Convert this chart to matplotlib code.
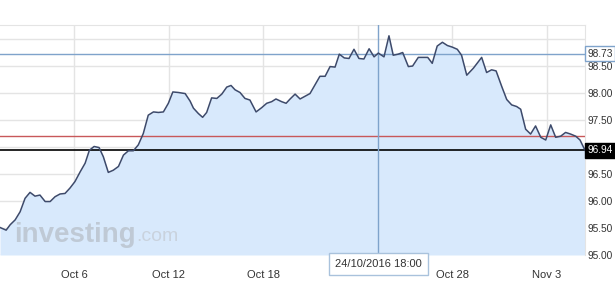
import numpy as np
import matplotlib
matplotlib.use("Agg")
import matplotlib.pyplot as plt
import matplotlib.transforms as mtransforms

plt.rcParams['font.family'] = ['Liberation Sans', 'DejaVu Sans']

# x in trading days from Oct 3 2016 (weekends skipped), y is the index level
days = [-0.13, 0.13, 0.30, 0.51, 0.72, 0.93, 1.14, 1.35, 1.56, 1.78, 1.99, 2.20,
        2.41, 2.62, 2.83, 3.04, 3.26, 3.47, 3.65, 3.85, 4.06, 4.24, 4.45, 4.66,
        4.88, 5.09, 5.30, 5.51, 5.72, 5.93, 6.14, 6.36, 6.57, 6.78, 6.99, 7.18,
        7.41, 7.70, 7.91, 8.05, 8.26, 8.44, 8.61, 8.82, 9.04, 9.25, 9.46, 9.64,
        9.81, 10.02, 10.23, 10.44, 10.70, 10.94, 11.15, 11.36, 11.54, 11.78, 11.97, 12.14,
        12.35, 12.56, 12.77, 12.98, 13.19, 13.40, 13.62, 13.83, 14.04, 14.22, 14.43, 14.63,
        14.84, 15.05, 15.26, 15.48, 15.69, 15.87, 16.11, 16.32, 16.50, 16.71, 16.90, 17.14,
        17.32, 17.56, 17.77, 17.96, 18.15, 18.36, 18.58, 18.79, 19.00, 19.21, 19.39, 19.61,
        19.89, 20.24, 20.45, 20.66, 20.85, 21.09, 21.30, 21.51, 21.72, 21.89, 22.10, 22.31,
        22.52, 22.74, 22.95, 23.16, 23.37, 23.58, 23.79, 24.00, 24.22, 24.40, 24.61]
price = [95.51, 95.46, 95.56, 95.65, 95.80, 96.05, 96.16, 96.09, 96.11, 95.99, 95.99, 96.08,
         96.13, 96.14, 96.24, 96.36, 96.54, 96.70, 96.94, 97.01, 96.99, 96.82, 96.53, 96.57,
         96.64, 96.85, 96.93, 96.93, 97.04, 97.25, 97.59, 97.65, 97.64, 97.65, 97.81, 98.02,
         98.01, 97.99, 97.85, 97.72, 97.62, 97.55, 97.64, 97.91, 97.90, 97.98, 98.11, 98.14,
         98.06, 98.01, 97.90, 97.87, 97.65, 97.73, 97.81, 97.84, 97.89, 97.84, 97.81, 97.89,
         97.98, 97.89, 97.94, 97.99, 98.15, 98.31, 98.31, 98.49, 98.48, 98.72, 98.65, 98.64,
         98.81, 98.64, 98.63, 98.82, 98.67, 98.74, 98.67, 99.06, 98.70, 98.72, 98.75, 98.49,
         98.50, 98.66, 98.66, 98.66, 98.55, 98.87, 98.94, 98.88, 98.85, 98.81, 98.70, 98.33,
         98.46, 98.66, 98.38, 98.43, 98.41, 98.12, 97.88, 97.78, 97.75, 97.70, 97.33, 97.24,
         97.39, 97.18, 97.13, 97.41, 97.18, 97.20, 97.27, 97.24, 97.20, 97.13, 96.94]

tick_days = [3, 7, 11, 15, 19, 23]
tick_names = ['Oct 6', 'Oct 12', 'Oct 18', '', 'Oct 28', 'Nov 3']  # Oct 24 sits under the cursor box
y_ticks = [95.0, 95.5, 96.0, 96.5, 97.0, 97.5, 98.0, 98.5, 99.0]
y_names = ['95.00', '95.50', '96.00', '96.50', '', '97.50', '98.00', '98.50', '']  # 97.00 hidden by last-price box

high_level = 98.73
red_level = 97.20
last_level = 96.94
cursor_day = 15.87
cursor_label = '24/10/2016 18:00'

fig = plt.figure(figsize=(6.15, 2.9), dpi=100)
ax = fig.add_axes([0, 0.1207, 0.9512, 0.7931])

ax.fill_between(days, price, 95.0, color='#d8e9fc', lw=0)
ax.plot(days, price, color='#3d4a6b', lw=1.1, zorder=4)

ax.axhline(high_level, color='#7fa3cb', lw=1, zorder=3)
ax.axhline(red_level, color='#c8585a', lw=1, zorder=3)
ax.axhline(last_level, color='black', lw=1.2, zorder=3)
ax.axvline(cursor_day, color='#7fa3cb', lw=1, zorder=3)

ax.set_xlim(-0.13, 24.61)
ax.set_ylim(95.0, 99.26)

ax.set_yticks(y_ticks)
ax.set_yticklabels(y_names)
ax.yaxis.tick_right()
ax.set_xticks(tick_days)
ax.set_xticklabels(tick_names)
ax.tick_params(length=0, labelsize=8, colors='#333333')
ax.tick_params(axis='x', pad=11)
ax.tick_params(axis='y', pad=2, labelsize=7.3)
ax.grid(True, color='#e4e4e4', lw=1)
ax.set_axisbelow(True)
for side in ['left', 'bottom']:
    ax.spines[side].set_visible(False)
for side in ['top', 'right']:
    ax.spines[side].set_color('#e4e4e4')

trans = mtransforms.blended_transform_factory(ax.transAxes, ax.transData)
ax.text(1.004, high_level, '%.2f' % high_level, transform=trans, fontsize=7.3,
        va='center', ha='left', color='#333333', clip_on=False, zorder=6,
        bbox=dict(boxstyle='square,pad=0.25', fc='white', ec='#7fa3cb', lw=1))
ax.text(1.004, last_level, '%.2f' % last_level, transform=trans, fontsize=7.3,
        va='center', ha='left', color='white', clip_on=False, zorder=6,
        bbox=dict(boxstyle='square,pad=0.25', fc='black', ec='black', lw=1))

trans_x = mtransforms.blended_transform_factory(ax.transData, ax.transAxes)
ax.text(cursor_day, -0.04, cursor_label, transform=trans_x, fontsize=8,
        va='center', ha='center', color='#333333', clip_on=False, zorder=6,
        bbox=dict(boxstyle='square,pad=0.55', fc='white', ec='#a9c2dc', lw=1))

# watermark
wm = ax.text(0.025, 0.085, 'investing', transform=ax.transAxes, fontsize=20,
             fontweight='bold', color='#b9c2cc', alpha=0.8, va='center', ha='left', zorder=2)
ax.annotate('.com', xy=(1.0, 0.12), xycoords=wm, fontsize=14, color='#c6cdd6',
            alpha=0.8, va='bottom', ha='left', zorder=2)

fig.savefig('out.png', dpi=100)
